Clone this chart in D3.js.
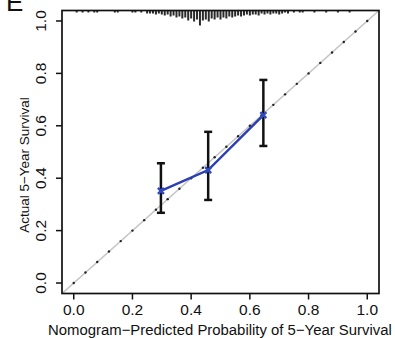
<!DOCTYPE html>
<html><head><meta charset="utf-8">
<script src="https://cdn.jsdelivr.net/npm/d3@7"></script>
<style>body{margin:0;background:#fff}svg{display:block}text{font-family:"Liberation Sans",Arial,sans-serif;fill:#111}</style>
</head><body><svg id="c" width="395" height="338"></svg>
<script>
const xTicks = [0, 0.2, 0.4, 0.6, 0.8, 1.0];
const yTicks = [0, 0.2, 0.4, 0.6, 0.8, 1.0];
const tickLabels = ["0.0", "0.2", "0.4", "0.6", "0.8", "1.0"];
const predicted = [0.297, 0.458, 0.646];
const observed = [0.352, 0.431, 0.641];
const lower = [0.268, 0.317, 0.523];
const upper = [0.457, 0.577, 0.775];
const idealDots = d3.range(0, 26).map(i => +(i * 0.04).toFixed(2));
const spikeX = [0.01,0.03,0.05,0.07,0.08,0.14,0.15,0.20,0.21,0.23,0.25,0.26,0.27,0.28,0.29,0.30,0.31,0.32,0.33,0.34,0.35,0.36,0.37,0.38,0.39,0.40,0.41,0.42,0.43,0.44,0.45,0.46,0.47,0.48,0.49,0.50,0.51,0.52,0.53,0.54,0.55,0.56,0.57,0.58,0.59,0.60,0.61,0.62,0.63,0.64,0.65,0.66,0.67,0.68,0.69,0.70,0.71,0.72,0.73,0.75,0.77,0.78,0.82,0.86,0.90,0.94];
const spikeN = [1,1,1,1,1,1,1,1,1,1,2,2,2,3,2,3,4,3,5,4,6,5,7,6,9,7,10,8,14,9,8,10,7,8,6,8,6,7,5,6,5,4,5,4,3,4,3,3,4,2,3,2,3,2,2,3,2,1,2,1,1,1,1,1,1,1];
const xTitle = "Nomogram\u2212Predicted Probability of 5\u2212Year Survival";
const yTitle = "Actual 5\u2212Year Survival";
const panelLetter = "E";

const svg = d3.select("#c");
const L = 62, R = 379, T = 10.5, B = 293.5;
const x = d3.scaleLinear().domain([-0.04, 1.04]).range([L, R]);
const y = d3.scaleLinear().domain([-0.04, 1.04]).range([B, T]);
const h = d3.scaleLinear().domain([0, 14]).range([1, 15]);

svg.append("defs").append("clipPath").attr("id","clip").append("rect")
  .attr("x",L).attr("y",T).attr("width",R-L).attr("height",B-T);
const g = svg.append("g").attr("clip-path","url(#clip)");

// ideal line
g.append("line").attr("x1",x(-0.04)).attr("y1",y(-0.04)).attr("x2",x(1.04)).attr("y2",y(1.04))
  .attr("stroke","#c6c6c6").attr("stroke-width",1.6);
g.selectAll(".dot").data(idealDots).enter().append("circle")
  .attr("cx",d=>x(d)).attr("cy",d=>y(d)).attr("r",1.2).attr("fill","#222");

// spike histogram
g.selectAll(".sp").data(spikeX).enter().append("line")
  .attr("x1",d=>x(d)).attr("x2",d=>x(d)).attr("y1",T)
  .attr("y2",(d,i)=>T+h(spikeN[i])).attr("stroke","#2a2a2a").attr("stroke-width",2);

// error bars
predicted.forEach((p,i)=>{
  svg.append("line").attr("x1",x(p)).attr("x2",x(p)).attr("y1",y(lower[i])).attr("y2",y(upper[i]))
    .attr("stroke","#111").attr("stroke-width",2.5);
  [lower[i],upper[i]].forEach(v=>svg.append("line").attr("x1",x(p)-4).attr("x2",x(p)+4)
    .attr("y1",y(v)).attr("y2",y(v)).attr("stroke","#111").attr("stroke-width",2.5));
});
// blue line
svg.append("path").datum(predicted.map((p,i)=>[p,observed[i]]))
  .attr("d",d3.line().x(d=>x(d[0])).y(d=>y(d[1])))
  .attr("fill","none").attr("stroke","#2a3db3").attr("stroke-width",2.4);
predicted.forEach((p,i)=>{
  const cx=x(p), cy=y(observed[i]);
  svg.append("path").attr("d",`M${cx-3},${cy-3}L${cx+3},${cy+3}M${cx-3},${cy+3}L${cx+3},${cy-3}`)
    .attr("stroke","#3048c0").attr("stroke-width",2.4);
});

// box
svg.append("rect").attr("x",L).attr("y",T).attr("width",R-L).attr("height",B-T)
  .attr("fill","none").attr("stroke","#111").attr("stroke-width",1.7);

// x axis
xTicks.forEach((t,i)=>{
  svg.append("line").attr("x1",x(t)).attr("x2",x(t)).attr("y1",B).attr("y2",B+6).attr("stroke","#111").attr("stroke-width",1.5);
  svg.append("text").attr("x",x(t)).attr("y",315).attr("text-anchor","middle").attr("font-size",15.5).text(tickLabels[i]);
});
// y axis
yTicks.forEach((t,i)=>{
  svg.append("line").attr("x1",L-6).attr("x2",L).attr("y1",y(t)).attr("y2",y(t)).attr("stroke","#111").attr("stroke-width",1.5);
  svg.append("text").attr("transform",`translate(46,${y(t)}) rotate(-90)`).attr("text-anchor","middle").attr("font-size",15.5).text(tickLabels[i]);
});
svg.append("text").attr("x",48).attr("y",335).attr("font-size",14.9).text(xTitle);
svg.append("text").attr("transform",`translate(29,165) rotate(-90)`).attr("text-anchor","middle").attr("font-size",13.5).text(yTitle);
svg.append("text").attr("x",6).attr("y",11).attr("font-size",26).text(panelLetter);
</script></body></html>
